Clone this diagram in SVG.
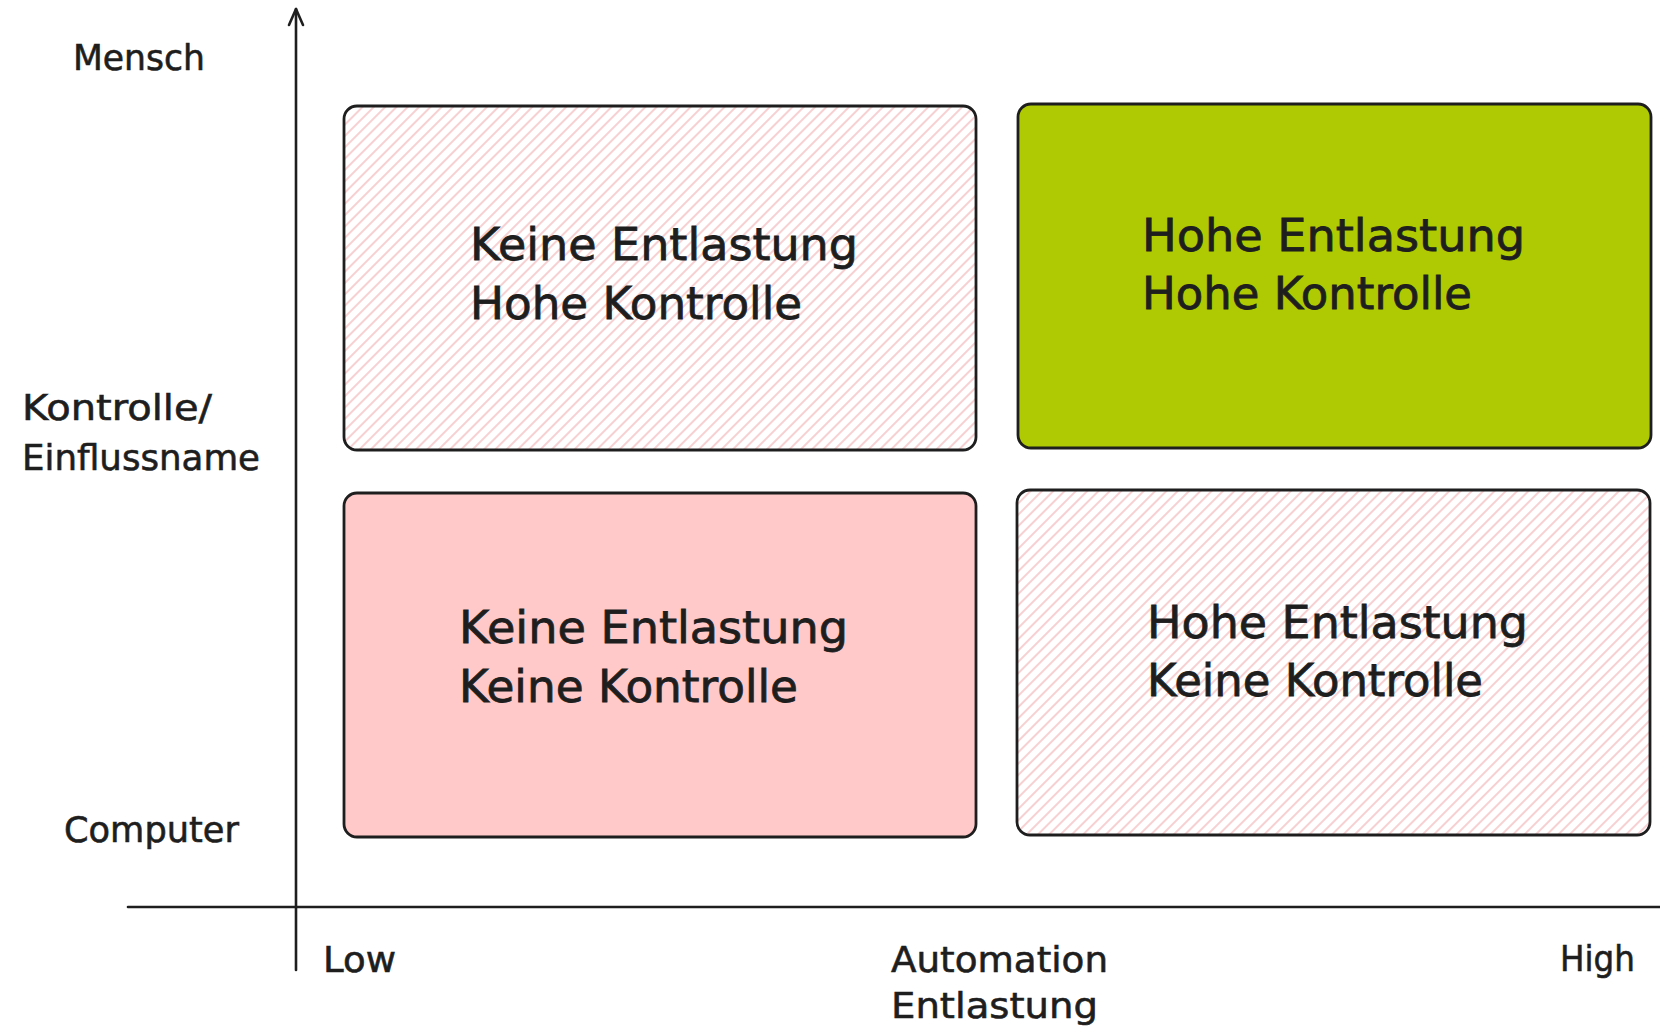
<svg xmlns="http://www.w3.org/2000/svg" width="1660" height="1031" viewBox="0 0 1660 1031">
  <style>
    .box { stroke: #1e1e1e; stroke-width: 2.8; }
    .hatched { fill: url(#hatch); }
    .pink { fill: #ffc9c9; }
    .green { fill: #afca02; }
    .axis { fill: none; stroke: #1e1e1e; stroke-width: 2.6; stroke-linecap: round; }
    .label { font-family: "DejaVu Sans", "Liberation Sans", sans-serif; font-size: 36px; fill: #1e1e1e; stroke: #1e1e1e; stroke-width: 0.6; }
    .cell { font-family: "DejaVu Sans", "Liberation Sans", sans-serif; font-size: 44px; fill: #1e1e1e; stroke: #1e1e1e; stroke-width: 0.8; }
  </style>
  <defs>
    <!-- light red diagonal hachure used by the outlined quadrants -->
    <pattern id="hatch" patternUnits="userSpaceOnUse" width="8" height="8" patternTransform="rotate(-45)">
      <rect width="8" height="8" fill="#ffffff"/>
      <line x1="0" y1="4" x2="8" y2="4" stroke="#f3b0b4" stroke-width="1.2"/>
    </pattern>
    <marker id="arrow" markerUnits="userSpaceOnUse" orient="auto" markerWidth="20" markerHeight="20" refX="0" refY="0" style="overflow:visible">
      <path d="M-16,-7 L0,0 L-16,7" fill="none" stroke="#1e1e1e" stroke-width="2.6" stroke-linecap="round" stroke-linejoin="round"/>
    </marker>
  </defs>

  <rect width="1660" height="1031" fill="#ffffff"/>

  <!-- axes -->
  <g id="connectors">
    <line class="axis" x1="296" y1="970" x2="296" y2="9" marker-end="url(#arrow)"/>
    <line class="axis" x1="128" y1="907" x2="1662" y2="907"/>
  </g>

  <!-- axis labels -->
  <g id="axis-labels">
    <text class="label" x="73" y="70" textLength="132" lengthAdjust="spacingAndGlyphs">Mensch</text>
    <text class="label" x="22" y="420" textLength="190" lengthAdjust="spacingAndGlyphs">Kontrolle/</text>
    <text class="label" x="22" y="470" textLength="238" lengthAdjust="spacingAndGlyphs">Einflussname</text>
    <text class="label" x="64" y="842" textLength="175" lengthAdjust="spacingAndGlyphs">Computer</text>
    <text class="label" x="323" y="972" textLength="73" lengthAdjust="spacingAndGlyphs">Low</text>
    <text class="label" x="891" y="972" textLength="217" lengthAdjust="spacingAndGlyphs">Automation</text>
    <text class="label" x="891" y="1018" textLength="207" lengthAdjust="spacingAndGlyphs">Entlastung</text>
    <text class="label" x="1560" y="971" textLength="75" lengthAdjust="spacingAndGlyphs">High</text>
  </g>

  <!-- quadrants -->
  <g id="q-keine-entlastung-hohe-kontrolle">
    <rect class="box hatched" x="344" y="106" width="632" height="344" rx="13"/>
    <text class="cell" x="470" y="260" textLength="388" lengthAdjust="spacingAndGlyphs">Keine Entlastung</text>
    <text class="cell" x="470" y="319" textLength="332" lengthAdjust="spacingAndGlyphs">Hohe Kontrolle</text>
  </g>

  <g id="q-hohe-entlastung-hohe-kontrolle">
    <rect class="box green" x="1018" y="104" width="633" height="344" rx="13"/>
    <text class="cell" x="1142" y="251" textLength="383" lengthAdjust="spacingAndGlyphs">Hohe Entlastung</text>
    <text class="cell" x="1142" y="309" textLength="330" lengthAdjust="spacingAndGlyphs">Hohe Kontrolle</text>
  </g>

  <g id="q-keine-entlastung-keine-kontrolle">
    <rect class="box pink" x="344" y="493" width="632" height="344" rx="13"/>
    <text class="cell" x="459" y="643" textLength="389" lengthAdjust="spacingAndGlyphs">Keine Entlastung</text>
    <text class="cell" x="459" y="702" textLength="339" lengthAdjust="spacingAndGlyphs">Keine Kontrolle</text>
  </g>

  <g id="q-hohe-entlastung-keine-kontrolle">
    <rect class="box hatched" x="1017" y="490" width="633" height="345" rx="13"/>
    <text class="cell" x="1147" y="638" textLength="381" lengthAdjust="spacingAndGlyphs">Hohe Entlastung</text>
    <text class="cell" x="1147" y="696" textLength="336" lengthAdjust="spacingAndGlyphs">Keine Kontrolle</text>
  </g>
</svg>
